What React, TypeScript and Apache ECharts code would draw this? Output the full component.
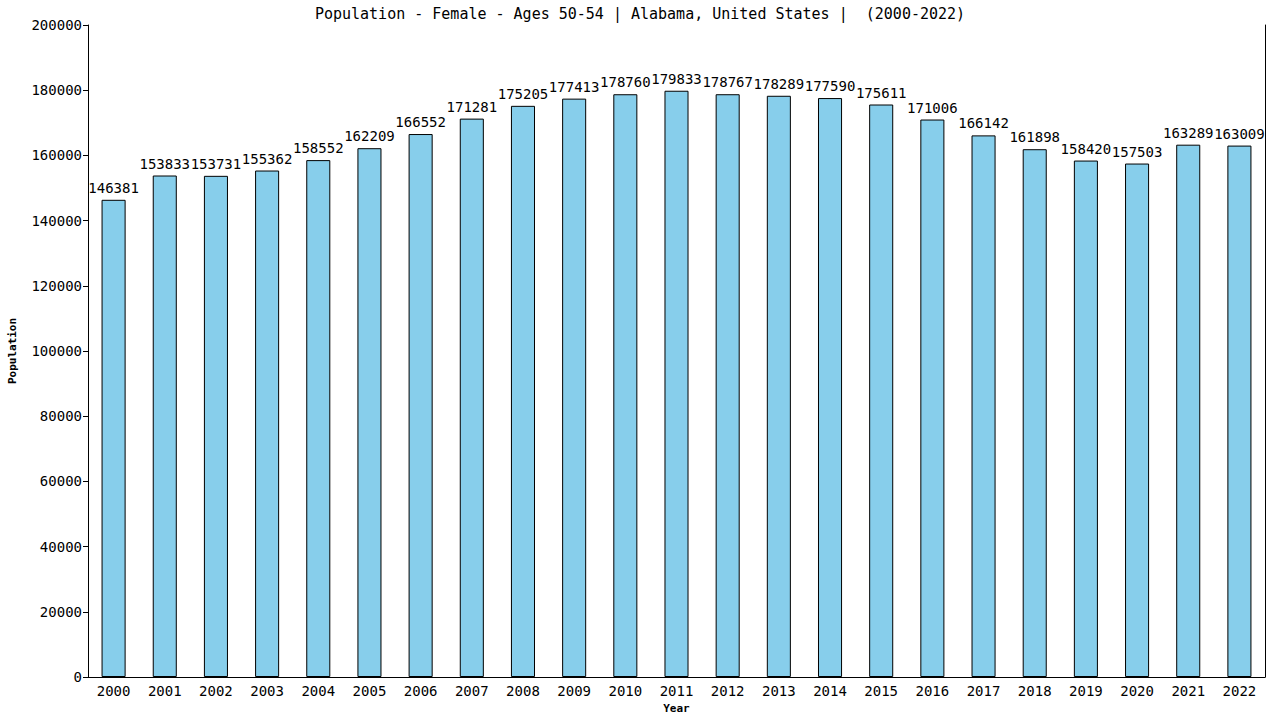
import React, { useEffect, useRef } from "react";
import * as echarts from "echarts";

const years = ["2000","2001","2002","2003","2004","2005","2006","2007","2008","2009","2010","2011","2012","2013","2014","2015","2016","2017","2018","2019","2020","2021","2022"];
const population = [146381,153833,153731,155362,158552,162209,166552,171281,175205,177413,178760,179833,178767,178289,177590,175611,171006,166142,161898,158420,157503,163289,163009];
const titleText = "Population - Female - Ages 50-54 | Alabama, United States |  (2000-2022)";
const FONT = "'DejaVu Sans Mono', monospace";

export default function App() {
  const ref = useRef<HTMLDivElement>(null);
  useEffect(() => {
    const chart = echarts.init(ref.current!, null, { renderer: "svg" });
    chart.setOption({
      animation: false,
      backgroundColor: "#fff",
      title: {
        text: titleText,
        left: "center",
        top: 1,
        textStyle: { fontFamily: FONT, fontSize: 15, fontWeight: "normal", color: "#000" },
      },
      grid: { left: 88, right: 15, top: 25, bottom: 43, containLabel: false, outerBoundsMode: "none" },
      xAxis: {
        type: "category",
        data: years,
        name: "Year",
        nameLocation: "middle",
        nameGap: 26,
        nameTextStyle: { fontFamily: FONT, fontSize: 11, fontWeight: "bold", color: "#000" },
        axisLine: { show: true, lineStyle: { color: "#000", width: 1 } },
        axisTick: { show: false },
        axisLabel: { fontFamily: FONT, fontSize: 14, color: "#000", margin: 7 },
      },
      yAxis: [
        {
          type: "value",
          min: 0,
          max: 200000,
          interval: 20000,
          name: "Population",
          nameLocation: "middle",
          nameGap: 70,
          nameTextStyle: { fontFamily: FONT, fontSize: 11, fontWeight: "bold", color: "#000" },
          axisLine: { show: true, lineStyle: { color: "#000", width: 1 } },
          axisTick: { show: true, length: 5, lineStyle: { color: "#000" } },
          axisLabel: { fontFamily: FONT, fontSize: 14, color: "#000", margin: 6, formatter: (v: number) => String(v) },
          splitLine: { show: false },
        },
        {
          type: "value",
          min: 0,
          max: 200000,
          interval: 20000,
          position: "right",
          axisLine: { show: true, lineStyle: { color: "#000", width: 1 } },
          axisTick: { show: false },
          axisLabel: { show: false },
          splitLine: { show: false },
        },
      ],
      series: [
        {
          type: "bar",
          data: population,
          barWidth: "47%",
          itemStyle: { color: "#87CEEB", borderColor: "#000", borderWidth: 1 },
          label: {
            show: true,
            position: "top",
            distance: 5,
            fontFamily: FONT,
            fontSize: 14,
            color: "#000",
          },
        },
      ],
    });
    return () => chart.dispose();
  }, []);
  return <div ref={ref} style={{ position: "fixed", left: 0, top: 0, width: 1280, height: 720 }} />;
}
